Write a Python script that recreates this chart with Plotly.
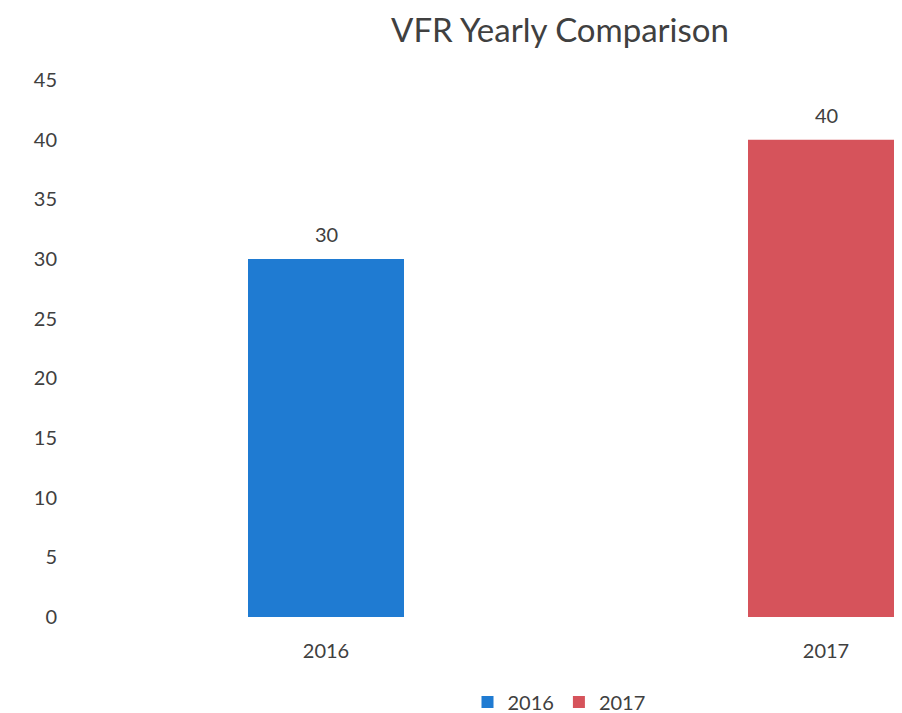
import plotly.graph_objects as go

categories = ["2016", "2017"]
values = [30, 40]
colors = ["#1f7bd2", "#d6535b"]
y_ticks = [0, 5, 10, 15, 20, 25, 30, 35, 40, 45]

FONT = "Lato"
TXT = "#404040"

# page has an 8px body margin; figure coordinates = page coordinates - 8
W, H = 894, 705
L, T = 68, 72
PLOT_BOTTOM = 609
B = H - PLOT_BOTTOM
PLOT_H = PLOT_BOTTOM - T
PLOT_W = W - L

fig = go.Figure()
for i, (cat, val, col) in enumerate(zip(categories, values, colors)):
    fig.add_trace(go.Bar(
        x=[cat], y=[val], name=cat, marker_color=col, width=0.312,
        marker_line_width=0,
    ))
    fig.add_annotation(x=i, y=val, xref="x", yref="y", text=str(val), showarrow=False,
                       yanchor="bottom", yshift=11,
                       font=dict(family=FONT, size=20, color=TXT))

fig.update_layout(
    width=W, height=H,
    margin=dict(l=L, r=0, t=T, b=B, autoexpand=False),
    paper_bgcolor="white", plot_bgcolor="white",
    barmode="overlay",
    title=dict(text="VFR Yearly Comparison", x=552 / W, xref="container", xanchor="center",
               y=1 - 22 / H, yref="container", yanchor="middle",
               font=dict(family=FONT, size=33, color=TXT)),
    font=dict(family=FONT, size=20, color=TXT),
    showlegend=True,
    legend=dict(orientation="h", x=(551 - L) / PLOT_W, xanchor="center",
                y=(PLOT_BOTTOM - 694) / PLOT_H, yanchor="middle",
                font=dict(family=FONT, size=20, color=TXT),
                itemwidth=30, traceorder="normal"),
)
fig.update_xaxes(type="category", range=[-0.5, -0.5 + PLOT_W / 500], showgrid=False,
                 showline=False, ticks="", ticklabelstandoff=20,
                 tickfont=dict(size=20, color=TXT))
fig.update_yaxes(range=[0, 45], tickvals=y_ticks, showgrid=False, zeroline=False,
                 showline=False, ticks="", ticklabelstandoff=18,
                 tickfont=dict(size=20, color=TXT))

fig.write_html("out.html")
